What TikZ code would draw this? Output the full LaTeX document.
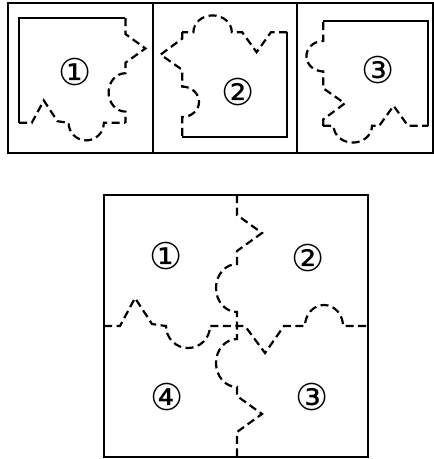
\documentclass[tikz,border=0pt]{standalone}
\usepackage{fontspec}
\newfontfamily\circfont{DejaVu Sans}
\begin{document}
\begin{tikzpicture}[x=1pt,y=-1pt,
  frame/.style={line width=2pt},
  solidedge/.style={line width=2.2pt},
  cut/.style={line width=2.2pt, dash pattern=on 8pt off 4.5pt},
  lbl/.style={font=\circfont\fontsize{37}{37}\selectfont, inner sep=0pt}]
\useasboundingbox (0,0) rectangle (434,459);
% edge fragments in big-square coordinates
\def\Hleft{(104,326) -- (120,326) -- (135,298) -- (152,324) -- (166,326)
  .. controls (166,338.2) and (175.9,348) .. (188,348)
  .. controls (200.2,348) and (210,338.2) .. (210,326) -- (237,326)}
\def\Hright{(237,326) -- (245,326) -- (265,353) -- (284,326) -- (305,326)
  .. controls (305,314.4) and (313.5,305) .. (324,305)
  .. controls (334.5,305) and (343,314.4) .. (343,326) -- (368,326)}
\def\Vtop{(237,195) -- (237,215) -- (262,233) -- (237,251) -- (237,264)
  .. controls (225.4,264) and (216,274.7) .. (216,288)
  .. controls (216,301.3) and (225.4,312) .. (237,312) -- (237,326)}
\def\Vbot{(237,326) -- (237,339)
  .. controls (225.4,339) and (216,349.7) .. (216,363)
  .. controls (216,376.3) and (225.4,387) .. (237,387) -- (237,396)
  -- (262,414) -- (237,432) -- (237,457)}
% top row frame
\draw[frame] (8,3) rectangle (433,153);
\draw[frame] (153,3) -- (153,153);
\draw[frame] (297,3) -- (297,153);
% piece 1
\begin{scope}[shift={(19,18)}, scale=0.8, shift={(-104,-195)}]
  \draw[solidedge] (237,195) -- (104,195) -- (104,326);
  \draw[cut] \Hleft;
  \draw[cut] \Vtop;
\end{scope}
% piece 2
\begin{scope}[shift={(234.6,84.6)}, rotate=-90, scale=0.8, shift={(-302.5,-260.5)}]
  \draw[solidedge] (237,195) -- (368,195) -- (368,326);
  \draw[cut] \Vtop;
  \draw[cut] \Hright;
\end{scope}
% piece 3
\begin{scope}[shift={(375.6,73.4)}, rotate=90, scale=0.8, shift={(-302.5,-391.5)}]
  \draw[solidedge] (368,326) -- (368,457) -- (237,457);
  \draw[cut] \Hright;
  \draw[cut] \Vbot;
\end{scope}
\node[lbl] (p1) at (75,72) {①};
\node[lbl] (p2) at (238,92) {②};
\node[lbl] (p3) at (378,70) {③};
% big square
\draw[frame] (104,195) rectangle (368,457);
\draw[cut] \Hleft -- (245,326) -- (265,353) -- (284,326) -- (305,326)
  .. controls (305,314.4) and (313.5,305) .. (324,305)
  .. controls (334.5,305) and (343,314.4) .. (343,326) -- (368,326);
\draw[cut] \Vtop -- (237,339)
  .. controls (225.4,339) and (216,349.7) .. (216,363)
  .. controls (216,376.3) and (225.4,387) .. (237,387) -- (237,396)
  -- (262,414) -- (237,432) -- (237,457);
\node[lbl] (b1) at (166,256) {①};
\node[lbl] (b2) at (308,258) {②};
\node[lbl] (b4) at (167,397) {④};
\node[lbl] (b3) at (312,397) {③};
\end{tikzpicture}
\end{document}
